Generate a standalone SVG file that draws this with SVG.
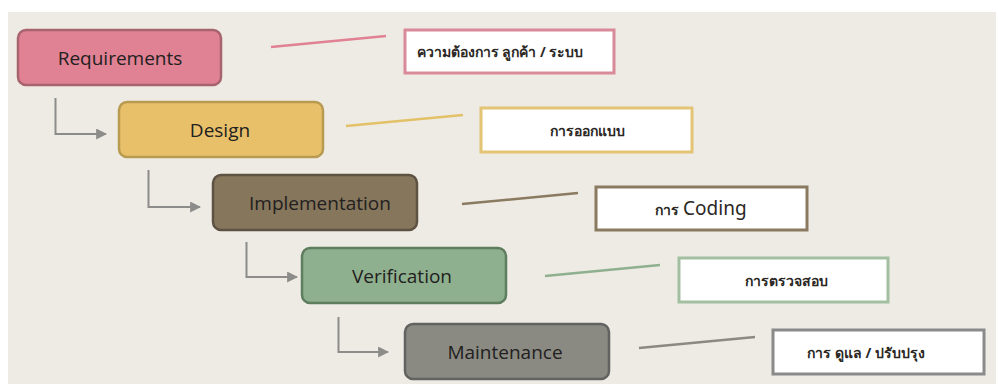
<svg xmlns="http://www.w3.org/2000/svg" width="998" height="384" viewBox="0 0 998 384">
<defs>
<style>
.node rect{stroke-width:2.5}
.node text{font-family:"Open Sans","Liberation Sans",sans-serif;font-size:19px;fill:#222020;text-anchor:middle}
.lbl rect{fill:#ffffff;stroke-width:3}
.lbl text{font-family:"Noto Sans","Liberation Sans",sans-serif;font-size:14px;font-weight:bold;fill:#2b2724;text-anchor:middle}
.flow path{fill:none;stroke:#8c8c8a;stroke-width:2}
.call line{stroke-width:2.5}
</style>
<marker id="arr" viewBox="0 0 10 10" refX="9" refY="5" markerWidth="5.5" markerHeight="5.5" orient="auto" markerUnits="strokeWidth">
<path d="M0,0 L10,5 L0,10 Z" fill="#8c8c8a"/>
</marker>
</defs>
<rect x="0" y="0" width="998" height="384" fill="#ffffff"/>
<rect x="8" y="12" width="988" height="372" fill="#eeebe4"/>

<g id="connectors">
<g class="flow">
<path d="M55.5,98 V134 H106" marker-end="url(#arr)"/>
<path d="M148.5,170 V207 H200" marker-end="url(#arr)"/>
<path d="M246.5,242 V277 H297" marker-end="url(#arr)"/>
<path d="M338.5,317 V352 H388" marker-end="url(#arr)"/>
</g>
<g class="call">
<line x1="271" y1="47" x2="386" y2="36" stroke="#e08294"/>
<line x1="346" y1="126" x2="463" y2="115" stroke="#e3c168"/>
<line x1="462" y1="204" x2="578" y2="193" stroke="#8a7a60"/>
<line x1="545" y1="276" x2="660" y2="265" stroke="#8fb08e"/>
<line x1="639" y1="348" x2="755" y2="337" stroke="#8a8a82"/>
</g>
</g>

<g id="requirements" class="node">
<rect x="18" y="30" width="203" height="55" rx="8" fill="#e08294" stroke="#a8646e"/>
<text x="120" y="65">Requirements</text>
</g>
<g id="design" class="node">
<rect x="119" y="102" width="204" height="55" rx="8" fill="#e8c06a" stroke="#b89a50"/>
<text x="220" y="137">Design</text>
</g>
<g id="implementation" class="node">
<rect x="213" y="175" width="204" height="55" rx="8" fill="#86765c" stroke="#5e5242"/>
<text x="320" y="210">Implementation</text>
</g>
<g id="verification" class="node">
<rect x="302" y="248" width="204" height="55" rx="8" fill="#8fb08e" stroke="#5e7e5e"/>
<text x="402" y="283">Verification</text>
</g>
<g id="maintenance" class="node">
<rect x="405" y="324" width="204" height="55" rx="8" fill="#8a8a82" stroke="#626260"/>
<text x="505" y="359">Maintenance</text>
</g>

<g id="label-requirements" class="lbl">
<rect x="405" y="30" width="209" height="43" stroke="#d98a98"/>
<text x="500" y="57">ความต้องการ ลูกค้า / ระบบ</text>
</g>
<g id="label-design" class="lbl">
<rect x="481" y="108" width="211" height="44" stroke="#e3c474"/>
<text x="587" y="136">การออกแบบ</text>
</g>
<g id="label-implementation" class="lbl">
<rect x="596" y="187" width="211" height="43" stroke="#8a7a60"/>
<text x="701" y="215">การ <tspan font-weight="normal" font-size="19">Coding</tspan></text>
</g>
<g id="label-verification" class="lbl">
<rect x="679" y="258" width="209" height="44" stroke="#a3bfa2"/>
<text x="786" y="286">การตรวจสอบ</text>
</g>
<g id="label-maintenance" class="lbl">
<rect x="773" y="330" width="211" height="44" stroke="#8a8a8a"/>
<text x="866" y="358">การ ดูแล / ปรับปรุง</text>
</g>
</svg>
